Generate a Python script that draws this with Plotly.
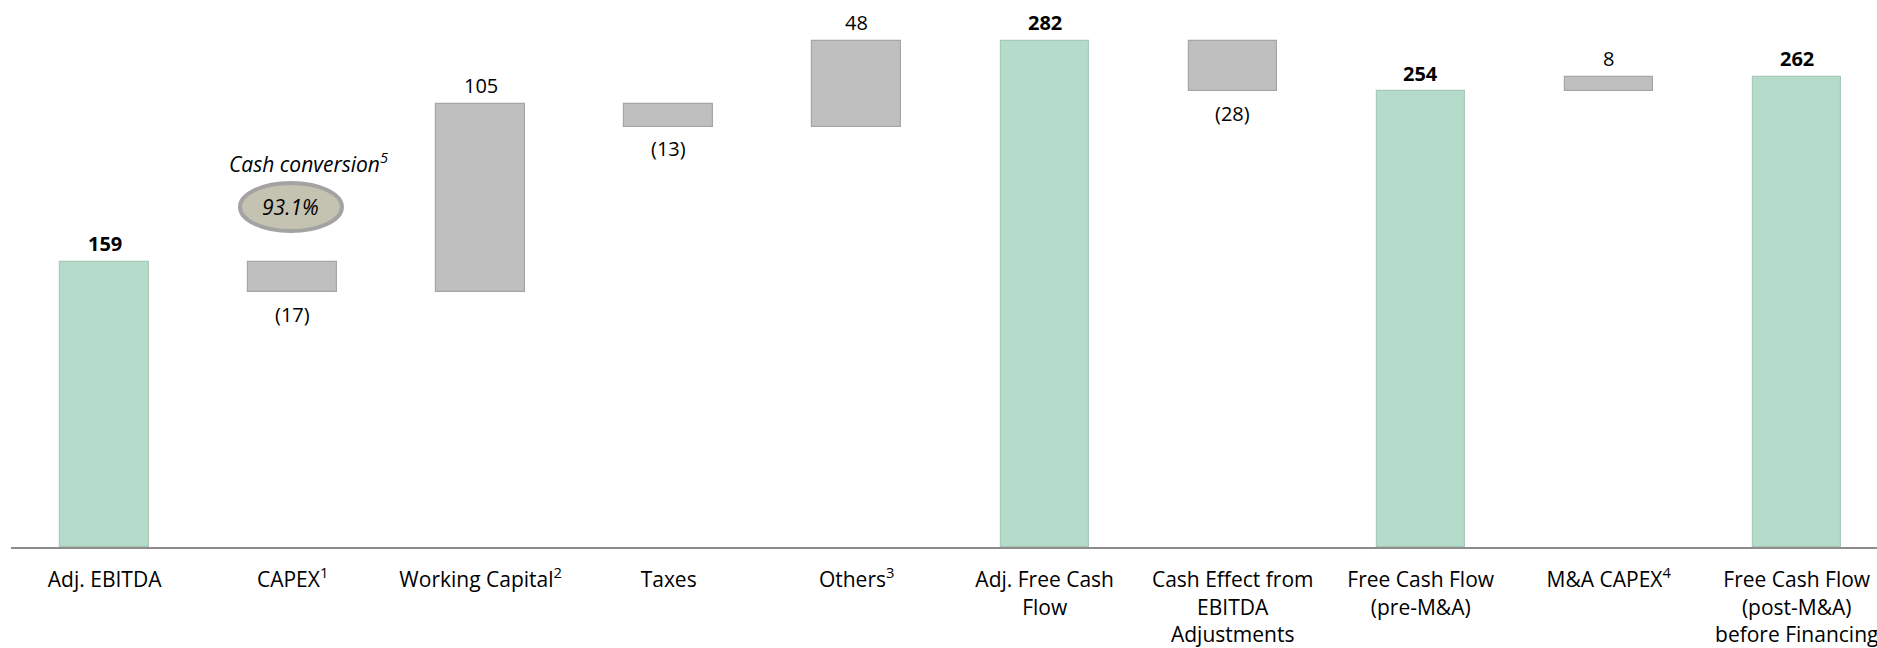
import plotly.graph_objects as go

# ---- data ----
categories = [
    "Adj. EBITDA",
    "CAPEX<sup>1</sup>",
    "Working Capital<sup>2</sup>",
    "Taxes",
    "Others<sup>3</sup>",
    "Adj. Free Cash<br>Flow",
    "Cash Effect from<br>EBITDA<br>Adjustments",
    "Free Cash Flow<br>(pre-M&A)",
    "M&A CAPEX<sup>4</sup>",
    "Free Cash Flow<br>(post-M&A)<br>before Financing",
]
values = [159, -17, 105, -13, 48, 282, -28, 254, 8, 262]
kinds = ["total", "delta", "delta", "delta", "delta", "total", "delta", "total", "delta", "total"]
cash_conversion_label = "93.1%"

# ---- derived geometry ----
bases, heights = [], []
running = 0
for v, k in zip(values, kinds):
    if k == "total":
        bases.append(0)
        heights.append(v)
        running = v
    else:
        bases.append(running)
        heights.append(v)
        running += v

x = list(range(len(categories)))
TOTAL_FILL, TOTAL_LINE = "#b5dccb", "#a9c8ba"
DELTA_FILL, DELTA_LINE = "#bfbfbf", "#a6a6a6"
FONT = "Open Sans"

fig = go.Figure()
fig.add_trace(go.Bar(
    x=x, y=heights, base=bases, width=0.47,
    marker=dict(
        color=[TOTAL_FILL if k == "total" else DELTA_FILL for k in kinds],
        line=dict(color=[TOTAL_LINE if k == "total" else DELTA_LINE for k in kinds], width=1.2),
    ),
    hoverinfo="skip",
))

annotations = []
for i, (b, h, v, k) in enumerate(zip(bases, heights, values, kinds)):
    top = max(b, b + h)
    bot = min(b, b + h)
    if v >= 0:
        txt = f"<b>{v}</b>" if k == "total" else f"{v}"
        annotations.append(dict(x=i, y=top, yshift=18, text=txt, showarrow=False,
                                xref="x", yref="y", yanchor="middle",
                                font=dict(family=FONT, size=20, color="#000000")))
    else:
        annotations.append(dict(x=i, y=bot, yshift=-22, text=f"({abs(v)})", showarrow=False,
                                xref="x", yref="y", yanchor="middle",
                                font=dict(family=FONT, size=20, color="#000000")))

# cash conversion callout
annotations.append(dict(x=1.084, y=214.4, text="<i>Cash conversion<sup>5</sup></i>", showarrow=False,
                        xref="x", yref="y", yanchor="middle",
                        font=dict(family=FONT, size=21, color="#000000")))
annotations.append(dict(x=0.991, y=189.4, text=f"<i>{cash_conversion_label}</i>", showarrow=False,
                        xref="x", yref="y", yanchor="middle",
                        font=dict(family=FONT, size=21, color="#000000")))

shapes = [dict(type="circle", xref="x", yref="y", xsizemode="pixel", ysizemode="pixel",
               xanchor=0.991, yanchor=189.4, x0=-51, x1=51, y0=-24, y1=24,
               fillcolor="#c4c2b1", line=dict(color="#a3a3a3", width=4), layer="above")]

fig.update_layout(
    width=1877, height=648,
    margin=dict(l=11, r=0, t=0, b=101),
    paper_bgcolor="white", plot_bgcolor="white",
    showlegend=False,
    annotations=annotations,
    shapes=shapes,
    bargap=0,
    xaxis=dict(
        range=[-0.498, 9.427],
        tickmode="array", tickvals=x, ticktext=categories,
        showline=True, linecolor="#8c8c8c", linewidth=2,
        showgrid=False, zeroline=False,
        ticks="outside", ticklen=13, tickcolor="rgba(0,0,0,0)",
        ticklabeloverflow="allow",
        tickfont=dict(family=FONT, size=21, color="#000000"),
        fixedrange=True,
    ),
    yaxis=dict(range=[0, 304.7], visible=False, showgrid=False, zeroline=False, fixedrange=True),
)

fig.write_html("out.html", config={"displayModeBar": False})
